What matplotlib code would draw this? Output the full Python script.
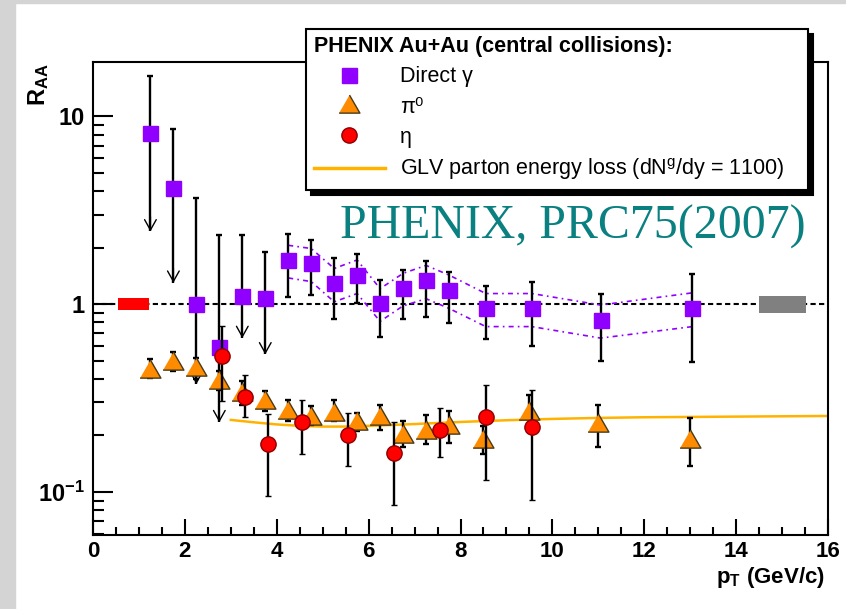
import matplotlib.pyplot as plt
from matplotlib.lines import Line2D
from matplotlib.patches import Rectangle
from matplotlib.ticker import MultipleLocator, LogLocator, NullFormatter

plt.rcParams['font.family'] = ['Liberation Sans', 'DejaVu Sans']
plt.rcParams['mathtext.fontset'] = 'custom'
plt.rcParams['mathtext.rm'] = 'Liberation Sans:bold'
plt.rcParams['mathtext.bf'] = 'Liberation Sans:bold'
plt.rcParams['mathtext.it'] = 'Liberation Sans'

# direct photons (first six are upper limits)
gamma_x = [1.25, 1.75, 2.25, 2.75, 3.25, 3.75, 4.25, 4.75, 5.25, 5.75, 6.25, 6.75, 7.25, 7.75, 8.55, 9.55, 11.05, 13.05]
gamma_y = [8.2, 4.17, 1.0, 0.59, 1.10, 1.085, 1.72, 1.65, 1.29, 1.43, 1.01, 1.22, 1.34, 1.19, 0.95, 0.95, 0.825, 0.955]
gamma_hi = [16.5, 8.6, 3.68, 2.34, 2.33, 1.89, 2.36, 2.19, 1.76, 1.84, 1.34, 1.53, 1.69, 1.48, 1.25, 1.31, 1.14, 1.44]
gamma_lo = [2.44, 1.30, 0.375, 0.235, 0.66, 0.54, 1.09, 1.12, 0.83, 1.02, 0.67, 0.83, 0.86, 0.79, 0.65, 0.60, 0.50, 0.49]
gamma_ul = [True, True, True, True, True, True] + [False] * 12

# systematic band on direct photons
band_x = [4.25, 4.75, 5.25, 5.75, 6.25, 6.75, 7.25, 7.75, 8.55, 9.55, 11.05, 13.05]
band_hi = [2.06, 1.98, 1.55, 1.72, 1.21, 1.46, 1.61, 1.43, 1.14, 1.14, 0.99, 1.15]
band_lo = [1.38, 1.32, 1.03, 1.14, 0.81, 0.98, 1.07, 0.95, 0.76, 0.76, 0.66, 0.76]

# pi0
pi0_x = [1.25, 1.75, 2.25, 2.75, 3.25, 3.75, 4.25, 4.75, 5.25, 5.75, 6.25, 6.75, 7.25, 7.75, 8.5, 9.5, 11.0, 13.0]
pi0_y = [0.447, 0.49, 0.46, 0.39, 0.335, 0.306, 0.271, 0.25, 0.265, 0.235, 0.25, 0.20, 0.212, 0.224, 0.19, 0.266, 0.23, 0.19]
pi0_hi = [0.51, 0.555, 0.52, 0.44, 0.39, 0.346, 0.31, 0.288, 0.31, 0.265, 0.29, 0.238, 0.258, 0.27, 0.225, 0.33, 0.29, 0.247]
pi0_lo = [0.405, 0.44, 0.40, 0.35, 0.29, 0.27, 0.24, 0.226, 0.24, 0.21, 0.213, 0.174, 0.18, 0.182, 0.16, 0.22, 0.173, 0.137]

# eta
eta_x = [2.8, 3.3, 3.8, 4.55, 5.55, 6.55, 7.55, 8.55, 9.55]
eta_y = [0.53, 0.319, 0.179, 0.235, 0.20, 0.161, 0.215, 0.25, 0.223]
eta_hi = [0.77, 0.42, 0.26, 0.31, 0.262, 0.235, 0.279, 0.37, 0.35]
eta_lo = [0.306, 0.25, 0.095, 0.16, 0.138, 0.085, 0.153, 0.116, 0.091]

# GLV parton energy loss curve
glv_x = [3, 3.5, 4, 4.5, 5, 5.5, 6, 7, 8, 9, 10, 11, 12, 13, 14, 15, 16]
glv_y = [0.242, 0.235, 0.229, 0.225, 0.223, 0.223, 0.225, 0.230, 0.236, 0.241, 0.245, 0.248, 0.250, 0.251, 0.252, 0.253, 0.254]

# normalisation boxes at R_AA = 1
red_box_x = [0.55, 1.22]
red_box_y = [0.933, 1.076]
gray_box_x = [14.5, 15.52]
gray_box_y = [0.896, 1.107]

PURPLE = '#8f00ff'
ORANGE = '#ff8c00'
RED = '#ff0000'
GLV = '#ffb300'
TRI = [(-1, -0.732), (1, -0.732), (0, 1.0)]

fig = plt.figure(figsize=(8.46, 6.09), dpi=100)
fig.patches.append(Rectangle((0, 0), 15 / 846, 1, transform=fig.transFigure, color='#d4d4d4', zorder=0))
fig.patches.append(Rectangle((0, 1 - 3 / 609), 1, 3 / 609, transform=fig.transFigure, color='#d4d4d4', zorder=0))
ax = fig.add_axes([93 / 846, 74 / 609, 735 / 846, 473 / 609])

ax.set_yscale('log')
ax.set_xlim(0, 16)
ax.set_ylim(0.059, 19.5)

ax.axhline(1, color='black', lw=1.5, ls=(0, (2.5, 1.6)), zorder=1)
ax.fill_between(red_box_x, red_box_y[0], red_box_y[1], color=RED, lw=0, zorder=1.5)
ax.fill_between(gray_box_x, gray_box_y[0], gray_box_y[1], color='#808080', lw=0, zorder=1.5)

# band
ax.plot(band_x, band_hi, color=PURPLE, lw=1.2, ls=(0, (3, 2.5, 1, 2.5)), zorder=2)
ax.plot(band_x, band_lo, color=PURPLE, lw=1.2, ls=(0, (3, 2.5, 1, 2.5)), zorder=2)

ax.plot(glv_x, glv_y, color=GLV, lw=1.8, zorder=2.5)

# direct gamma
g_up = [h - y for h, y in zip(gamma_hi, gamma_y)]
g_dn = [0 if ul else y - l for y, l, ul in zip(gamma_y, gamma_lo, gamma_ul)]
ax.errorbar(gamma_x, gamma_y, yerr=[g_dn, g_up], fmt='s', ms=10.8, mfc=PURPLE, mec=PURPLE,
            ecolor='black', elinewidth=1.7, capsize=2, capthick=1.7, zorder=3)
for x, y, l, ul in zip(gamma_x, gamma_y, gamma_lo, gamma_ul):
    if ul:
        ax.vlines(x, l, y, colors='black', lw=1.7, zorder=2.9)
        ax.annotate('', xy=(x, l), xytext=(x, l * 1.2),
                    arrowprops=dict(arrowstyle='->,head_length=0.75,head_width=0.42', lw=1,
                                    color='black', shrinkA=0, shrinkB=0, mutation_scale=10),
                    zorder=2.9)

# pi0
ax.errorbar(pi0_x, pi0_y, yerr=[[y - l for y, l in zip(pi0_y, pi0_lo)], [h - y for h, y in zip(pi0_hi, pi0_y)]],
            fmt='none', ecolor='black', elinewidth=1.7, capsize=2, capthick=1.7, zorder=4)
ax.plot(pi0_x, pi0_y, ls='none', marker=TRI, ms=15, mfc=ORANGE, mec='#4a3a1a', mew=1, zorder=4.1)

# eta
ax.errorbar(eta_x, eta_y, yerr=[[y - l for y, l in zip(eta_y, eta_lo)], [h - y for h, y in zip(eta_hi, eta_y)]],
            fmt='o', ms=11, mfc=RED, mec='#8b0000', mew=1, ecolor='black', elinewidth=1.7,
            capsize=2, capthick=1.7, zorder=5)

# axes styling
for s in ax.spines.values():
    s.set_linewidth(1.5)
ax.set_xticks(range(0, 17, 2))
ax.xaxis.set_minor_locator(MultipleLocator(0.5))
ax.set_yticks([0.1, 1, 10])
ax.set_yticklabels(['10$^{-1}$', '1', '10'])
ax.yaxis.set_minor_locator(LogLocator(subs=[2, 3, 4, 5, 6, 7, 8, 9]))
ax.yaxis.set_minor_formatter(NullFormatter())
ax.tick_params(axis='x', which='major', direction='in', length=11.5, width=1.5, pad=4,
               labelsize=16, top=False)
ax.tick_params(axis='x', which='minor', direction='in', length=5.8, width=1.5, top=False)
ax.tick_params(axis='y', which='major', direction='in', length=14.4, width=1.5, pad=6,
               labelsize=17, right=False)
ax.tick_params(axis='y', which='minor', direction='in', length=8, width=1.5, right=False)
for lab in ax.get_xticklabels() + ax.get_yticklabels():
    lab.set_fontweight('bold')

fig.text(39 / 846, 1 - 63 / 609, 'R$_{\\rm AA}$', rotation=90, ha='center', va='top', fontsize=17, fontweight='bold')
fig.text(825 / 846, 1 - 578 / 609, 'p$_{\\rm T}$ (GeV/c)', ha='right', va='center', fontsize=16, fontweight='bold')

handles = [
    Line2D([], [], ls='none', marker='s', ms=10.8, mfc=PURPLE, mec=PURPLE),
    Line2D([], [], ls='none', marker=TRI, ms=15, mfc=ORANGE, mec='#4a3a1a'),
    Line2D([], [], ls='none', marker='o', ms=11, mfc=RED, mec='#8b0000'),
    Line2D([], [], color=GLV, lw=2.5),
]
labels = ['Direct γ', 'π⁰', 'η', 'GLV parton energy loss (dN$^g$/dy = 1100)']
leg = ax.legend(handles, labels, loc='upper left', bbox_to_anchor=(0.29, 0.736, 0.683, 0.334),
                mode='expand', borderaxespad=0, fontsize=15.5, title='PHENIX Au+Au (central collisions):',
                title_fontproperties={'weight': 'bold', 'size': 15.5}, alignment='left',
                fancybox=False, edgecolor='black', framealpha=1, borderpad=0.35,
                handlelength=3.3, handletextpad=0.7, labelspacing=0.42, numpoints=1,
                shadow={'color': 'black', 'ox': 3.5, 'oy': -3.5, 'alpha': 1})
leg.get_frame().set_linewidth(1.5)

fig.text(806 / 846, 1 - 227 / 609, 'PHENIX, PRC75(2007)', ha='right', va='center', fontsize=34.5,
         family='Liberation Serif', color='#0a8080')

fig.savefig('out.png', dpi=100)
